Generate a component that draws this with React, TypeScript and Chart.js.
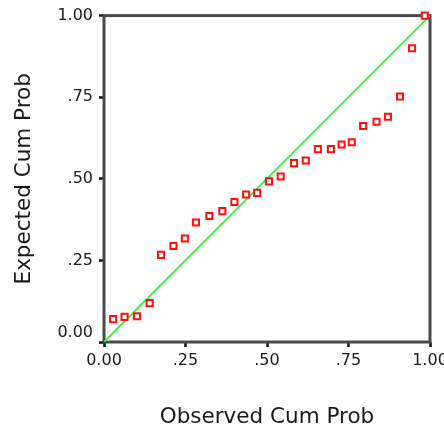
import React, { useEffect, useRef } from "react";
import { Chart, registerables } from "chart.js";

Chart.register(...registerables);

const observedCumProb = [
  0.028, 0.063, 0.101, 0.14, 0.175, 0.213, 0.248, 0.282, 0.323, 0.363, 0.4, 0.436, 0.47, 0.506,
  0.542, 0.583, 0.619, 0.656, 0.696, 0.729, 0.76, 0.795, 0.836, 0.871, 0.908, 0.945, 0.984,
];
const expectedCumProb = [
  0.07, 0.077, 0.079, 0.119, 0.267, 0.294, 0.317, 0.366, 0.386, 0.401, 0.429, 0.452, 0.457, 0.492,
  0.507, 0.548, 0.556, 0.591, 0.591, 0.605, 0.612, 0.662, 0.675, 0.69, 0.752, 0.9, 1.0,
];
const refLineX = [0, 1];
const refLineY = [0, 1];
const tickValues = [0, 0.25, 0.5, 0.75, 1];
const tickLabels = ["0.00", ".25", ".50", ".75", "1.00"];
const xTitle = "Observed Cum Prob";
const yTitle = "Expected Cum Prob";

const FONT = "'DejaVu Sans', sans-serif";

function labelFor(v: number): string {
  const i = tickValues.findIndex((t) => Math.abs(t - v) < 1e-6);
  return i >= 0 ? tickLabels[i] : "";
}

const framePlugin = {
  id: "frame",
  beforeDatasetsDraw(chart: any) {
    const { ctx, chartArea } = chart;
    ctx.save();
    ctx.strokeStyle = "#4a4a4a";
    ctx.lineWidth = 3;
    ctx.strokeRect(chartArea.left, chartArea.top, chartArea.right - chartArea.left, chartArea.bottom - chartArea.top);
    ctx.restore();
  },
};

export default function App() {
  const ref = useRef<HTMLCanvasElement | null>(null);

  useEffect(() => {
    if (!ref.current) return;
    const chart = new Chart(ref.current, {
      type: "scatter",
      data: {
        datasets: [
          {
            type: "line",
            data: refLineX.map((x, i) => ({ x, y: refLineY[i] })),
            borderColor: "#38e838",
            borderWidth: 1.7,
            pointRadius: 0,
            fill: false,
            order: 2,
          } as any,
          {
            data: observedCumProb.map((x, i) => ({ x, y: expectedCumProb[i] })),
            pointStyle: "rect",
            pointRadius: 4.3,
            borderWidth: 2,
            borderColor: "#ff1010",
            backgroundColor: "#ffffff",
            clip: false,
            order: 1,
          } as any,
        ],
      },
      options: {
        animation: false,
        responsive: false,
        devicePixelRatio: 1,
        layout: { padding: { left: 0, top: 15, right: 40, bottom: 0 } },
        plugins: { legend: { display: false }, tooltip: { enabled: false } },
        scales: {
          x: {
            type: "linear",
            min: 0,
            max: 1,
            afterFit: (s: any) => {
              s.height = 88;
            },
            afterBuildTicks: (s: any) => {
              s.ticks = tickValues.map((v) => ({ value: v }));
            },
            ticks: {
              callback: (v: any) => labelFor(Number(v)),
              font: { family: FONT, size: 16 },
              color: "#1a1a1a",
              padding: 4,
              maxRotation: 0,
              autoSkip: false,
            },
            grid: {
              display: true,
              drawOnChartArea: false,
              drawTicks: true,
              tickLength: 5,
              tickWidth: 2.5,
              tickColor: "#111",
            },
            border: { display: false },
            title: {
              display: true,
              text: xTitle,
              font: { family: FONT, size: 21.5 },
              color: "#1a1a1a",
              padding: { top: 0, bottom: 0 },
            },
          },
          y: {
            type: "linear",
            min: 0,
            max: 1,
            afterFit: (s: any) => {
              s.width = 104;
            },
            afterBuildTicks: (s: any) => {
              s.ticks = tickValues.map((v) => ({ value: v }));
            },
            ticks: {
              callback: (v: any) => {
                const l = labelFor(Number(v));
                return Number(v) === 0 ? [l, ""] : l;
              },
              font: { family: FONT, size: 16 },
              color: "#1a1a1a",
              padding: 6,
              autoSkip: false,
            },
            grid: {
              display: true,
              drawOnChartArea: false,
              drawTicks: true,
              tickLength: 5,
              tickWidth: 2.5,
              tickColor: "#111",
            },
            border: { display: false },
            title: {
              display: true,
              text: yTitle,
              font: { family: FONT, size: 21.5 },
              color: "#1a1a1a",
              padding: { top: 12, bottom: 0 },
            },
          },
        },
      },
      plugins: [framePlugin],
    });
    return () => chart.destroy();
  }, []);

  return (
    <div style={{ position: "fixed", left: 0, top: 0, width: 444, height: 430, overflow: "hidden", background: "#fff" }}>
      <canvas ref={ref} width={470} height={430} style={{ width: 470, height: 430, display: "block" }} />
    </div>
  );
}
